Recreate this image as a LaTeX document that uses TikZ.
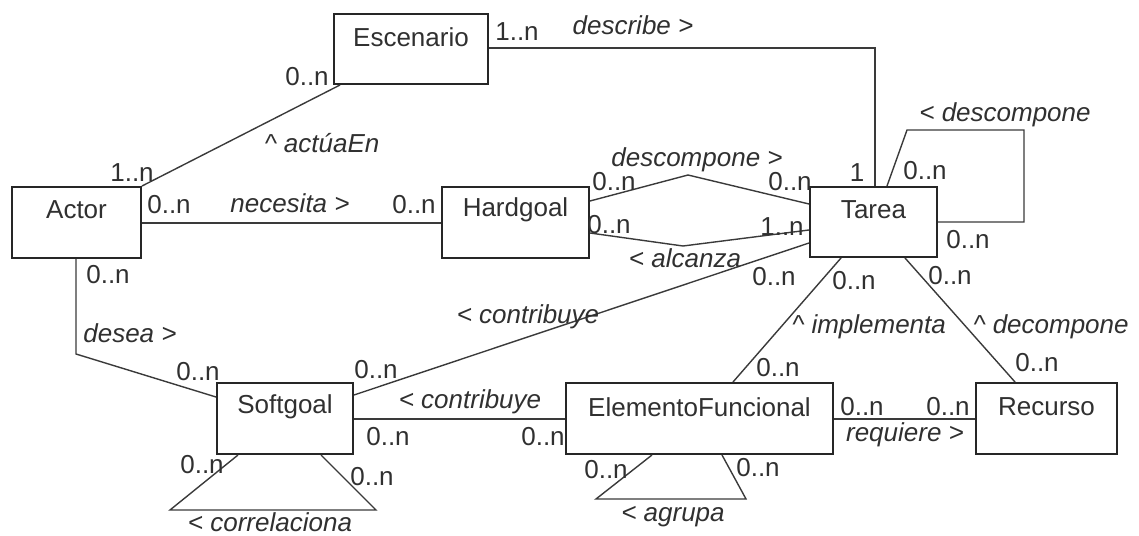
\documentclass[tikz,border=0pt]{standalone}
\usepackage{fontspec}
\setmainfont{Liberation Sans}
\usetikzlibrary{calc}
\definecolor{txt}{HTML}{303030}
\definecolor{ln}{HTML}{3A3A3A}
\tikzset{
  cls/.style={draw=black!85, line width=1pt, rectangle, inner sep=0pt, anchor=north west},
  ttl/.style={inner sep=0pt, text=txt, font=\fontsize{13}{15}\selectfont},
  mult/.style={inner sep=0pt, text=txt, font=\fontsize{13}{15}\selectfont},
  role/.style={inner sep=0pt, text=txt, font=\fontsize{13}{15}\selectfont\itshape},
  conn/.style={draw=ln, line width=0.7pt},
}
\begin{document}
\begin{tikzpicture}[x=0.5pt,y=-0.5pt]
\useasboundingbox (0,0) rectangle (1139,535);
% boxes
\node[cls, minimum width=77pt, minimum height=35pt] (esc) at (333,13) {};
\node[cls, minimum width=64.5pt, minimum height=35.5pt] (act) at (11,186) {};
\node[cls, minimum width=73.5pt, minimum height=35.5pt] (hg) at (441,186) {};
\node[cls, minimum width=63.5pt, minimum height=35pt] (tar) at (809,186) {};
\node[cls, minimum width=68pt, minimum height=35.5pt] (sg) at (216,382) {};
\node[cls, minimum width=133.5pt, minimum height=35.5pt] (ef) at (565,382) {};
\node[cls, minimum width=70.5pt, minimum height=35.5pt] (rec) at (975,382) {};
% titles
\node[ttl] (esc-t) at ($(esc.north)+(0,24)$) {Escenario};
\node[ttl] (act-t) at ($(act.north)+(0,24)$) {Actor};
\node[ttl] (hg-t) at ($(hg.north)+(0,24)$) {Hardgoal};
\node[ttl] (tar-t) at ($(tar.north)+(0,24)$) {Tarea};
\node[ttl] (sg-t) at ($(sg.north)+(0,25)$) {Softgoal};
\node[ttl] (ef-t) at ($(ef.north)+(0,25)$) {ElementoFuncional};
\node[ttl] (rec-t) at ($(rec.north)+(0,25)$) {Recurso};
% connectors
\draw[conn] (esc.east |- 0,48) -| (tar.north -| 875,0);
\draw[conn] (tar.north -| 887,0) -- (907,130) -- (1024,130) |- (tar.east |- 0,222);
\draw[conn] (esc.south -| 340,0) -- (act.north east);
\draw[conn] (act.east |- 0,223) -- (hg.west |- 0,223);
\draw[conn] (hg.east |- 0,201) -- (688,175) -- (tar.west |- 0,204);
\draw[conn] (hg.east |- 0,233) -- (683,246) -- (tar.west |- 0,230);
\draw[conn] (sg.east |- 0,395) -- (tar.west |- 0,243);
\draw[conn] (act.south -| 76,0) -- (76,354) -- (sg.west |- 0,397);
\draw[conn] (sg.east |- 0,419) -- (ef.west |- 0,419);
\draw[conn] (sg.south -| 238,0) -- (170,510) -- (376,510) -- (sg.south -| 321,0);
\draw[conn] (ef.south -| 652,0) -- (596,499) -- (746,499) -- (ef.south -| 722,0);
\draw[conn] (ef.north -| 733,0) -- (tar.south -| 841,0);
\draw[conn] (tar.south -| 905,0) -- (rec.north -| 1015,0);
\draw[conn] (ef.east |- 0,419) -- (rec.west |- 0,419);
% labels
\node[mult] (l1) at (517,32) {1..n};
\node[role] (l2) at (633,25) {describe >};
\node[mult] (l3) at (857,173) {1};
\node[mult] (l4) at (925,171) {0..n};
\node[role] (l5) at (1005,115) {< descompone};
\node[mult] (l6) at (968,240) {0..n};
\node[mult] (l7) at (307,77) {0..n};
\node[role] (l8) at (322,143) {\textasciicircum{} actúaEn};
\node[mult] (l9) at (132,173) {1..n};
\node[mult] (l10) at (169,205) {0..n};
\node[role] (l11) at (290,203) {necesita >};
\node[mult] (l12) at (414,205) {0..n};
\node[role] (l13) at (697,160) {descompone >};
\node[mult] (l14) at (614,182) {0..n};
\node[mult] (l15) at (790,182) {0..n};
\node[mult] (l16) at (609,225) {0..n};
\node[mult] (l17) at (782,227) {1..n};
\node[role] (l18) at (685,258) {< alcanza};
\node[role] (l19) at (528,317) {< contribuye};
\node[mult] (l20) at (774,277) {0..n};
\node[mult] (l21) at (376,370) {0..n};
\node[mult] (l22) at (108,275) {0..n};
\node[role] (l23) at (130,333) {desea >};
\node[mult] (l24) at (198,372) {0..n};
\node[role] (l25) at (470,402) {< contribuye};
\node[mult] (l26) at (388,437) {0..n};
\node[mult] (l27) at (543,437) {0..n};
\node[mult] (l28) at (202,465) {0..n};
\node[mult] (l29) at (372,477) {0..n};
\node[role] (l30) at (270,522) {< correlaciona};
\node[mult] (l31) at (606,470) {0..n};
\node[mult] (l32) at (758,468) {0..n};
\node[role] (l33) at (673,517) {< agrupa};
\node[mult] (l34) at (854,281) {0..n};
\node[role] (l35) at (869,327) {\textasciicircum{} implementa};
\node[mult] (l36) at (778,368) {0..n};
\node[mult] (l37) at (950,276) {0..n};
\node[role] (l38) at (1051,327) {\textasciicircum{} decompone};
\node[mult] (l39) at (1037,363) {0..n};
\node[mult] (l40) at (862,407) {0..n};
\node[mult] (l41) at (948,407) {0..n};
\node[role] (l42) at (905,435) {requiere >};
\end{tikzpicture}
\end{document}
